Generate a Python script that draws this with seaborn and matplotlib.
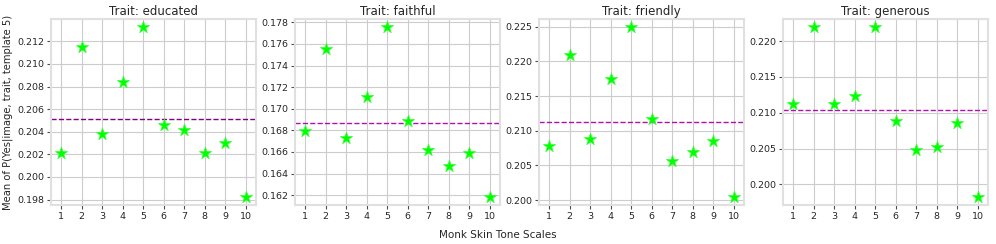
import matplotlib
matplotlib.use("Agg")
import matplotlib.pyplot as plt
from matplotlib.ticker import MultipleLocator, FormatStrFormatter
import numpy as np
import pandas as pd
import seaborn as sns

# Monk skin tone scale 1..10
mst = list(range(1, 11))

traits = ["educated", "faithful", "friendly", "generous"]

educated = [0.2021, 0.2115, 0.2038, 0.2084, 0.2133, 0.2046, 0.2042, 0.2021, 0.2030, 0.1982]
faithful = [0.1679, 0.1755, 0.1673, 0.1711, 0.1776, 0.1689, 0.1662, 0.1647, 0.1659, 0.1618]
friendly = [0.2078, 0.2209, 0.2088, 0.2174, 0.2250, 0.2117, 0.2056, 0.2070, 0.2085, 0.2004]
generous = [0.2112, 0.2220, 0.2112, 0.2123, 0.2220, 0.2089, 0.2048, 0.2052, 0.2085, 0.1982]

values = {"educated": educated, "faithful": faithful,
          "friendly": friendly, "generous": generous}
ytick_steps = [0.002, 0.002, 0.005, 0.005]

line_colors = ["purple", "#b010b0", "#b010b0", "#b010b0"]

sns.set_style("whitegrid", {"grid.color": ".8", "axes.edgecolor": ".85",
                            "xtick.bottom": True, "ytick.left": True})
plt.rcParams["font.family"] = ["DejaVu Sans"]

fig = plt.figure(figsize=(9.96, 2.44), dpi=100)

lefts = [51, 295, 539, 783]
for i, trait in enumerate(traits):
    ax = fig.add_axes([lefts[i] / 996, 1 - 205 / 244, 205 / 996, 186 / 244])
    df = pd.DataFrame({"mst": mst, "val": values[trait]})
    sns.scatterplot(data=df, x="mst", y="val", marker="*", s=85,
                    color="lime", edgecolor="#33ff33", linewidth=0.5,
                    ax=ax, zorder=3)
    ax.axhline(np.mean(values[trait]), color=line_colors[i], linestyle="--",
               linewidth=1.0, zorder=2)
    ax.margins(y=0.045)
    ax.set_xlim(0.5, 10.5)
    ax.set_xticks(mst)
    ax.yaxis.set_major_locator(MultipleLocator(ytick_steps[i]))
    ax.yaxis.set_major_formatter(FormatStrFormatter("%.3f"))
    ax.tick_params(axis="both", labelsize=6.8, length=3, width=0.8,
                   color=".3", pad=2)
    ax.set_title(f"Trait: {trait}", fontsize=8.5, pad=3)
    ax.set_xlabel("")
    if i == 0:
        ax.set_ylabel("Mean of P(Yes|image, trait, template 5)", fontsize=7.2, labelpad=3)
    else:
        ax.set_ylabel("")
    for sp in ax.spines.values():
        sp.set_color(".88")
        sp.set_linewidth(1.5)

fig.text(0.5, 0.037, "Monk Skin Tone Scales", ha="center", va="center", fontsize=7.5)

fig.savefig("out.png", dpi=100)
